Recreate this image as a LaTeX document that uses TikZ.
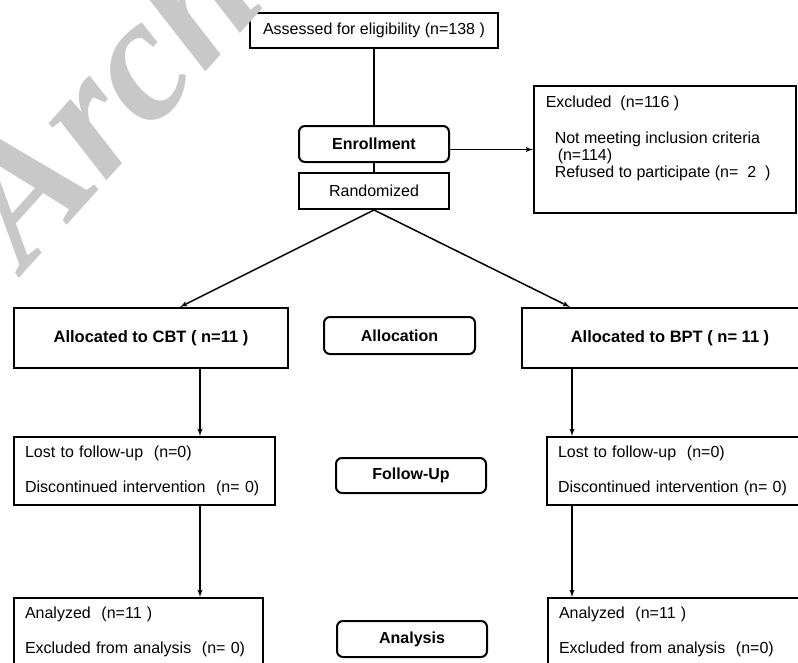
\documentclass[tikz,border=0pt]{standalone}
\usepackage{fontspec}
\setmainfont{Liberation Sans}
\newfontfamily\wmfont{Liberation Serif}
\usetikzlibrary{arrows}

\definecolor{wmgray}{RGB}{200,200,200}

\begin{document}
\begin{tikzpicture}[>=latex',x=1pt,y=-1pt,line width=1.5pt,
	box node/.style={draw, line width=2pt, inner sep=0pt, font=\fontsize{16}{19}\selectfont},
	phase node/.style={box node, rounded corners=6pt, font=\fontsize{16}{19}\selectfont\bfseries},
	list node/.style={box node, align=left, inner xsep=11pt}]

	\useasboundingbox (0,0) rectangle (798,662);
	\clip (0,0) rectangle (798,662);

	% enrollment
	\node[box node, minimum width=248pt, minimum height=35pt] (1) at (374,30.5) {Assessed for eligibility (n=138 )};
	\node[phase node, minimum width=150pt, minimum height=36pt] (2) at (374,144) {Enrollment};
	\node[box node, minimum width=150pt, minimum height=36pt] (3) at (374,191) {Randomized};
	\node[box node, minimum width=262pt, minimum height=127pt] (4) at (665,149.5) {};
	\node[anchor=base west, inner sep=0pt, font=\fontsize{16}{19}\selectfont] (4a) at ([shift={(12,22)}]4.north west) {Excluded\ \ (n=116 )};
	\node[anchor=base west, inner sep=0pt, font=\fontsize{16}{19}\selectfont] (4b) at ([shift={(21,58)}]4.north west) {Not meeting inclusion criteria};
	\node[anchor=base west, inner sep=0pt, font=\fontsize{16}{19}\selectfont] (4c) at ([shift={(24,75)}]4.north west) {(n=114)};
	\node[anchor=base west, inner sep=0pt, font=\fontsize{16}{19}\selectfont] (4d) at ([shift={(21,92)}]4.north west) {Refused to participate (n=\ \ 2\ \ )};

	% allocation
	\node[box node, minimum width=274pt, minimum height=60pt, font=\fontsize{16.5}{19}\selectfont\bfseries] (5) at (151,338) {Allocated to CBT ( n=11 )};
	\node[phase node, minimum width=151pt, minimum height=37pt] (6) at (399.5,335.5) {Allocation};
	\node[box node, minimum width=296pt, minimum height=60pt, font=\fontsize{16.5}{19}\selectfont\bfseries] (7) at (670,338) {Allocated to BPT ( n= 11 )};

	% follow-up
	\node[list node, text width=239pt, minimum height=68pt] (8) at (144.5,471) {Lost to follow-up\ \ (n=0)\\[16pt]Discontinued intervention\ \ (n= 0)};
	\node[phase node, minimum width=150pt, minimum height=35pt] (9) at (411,475.5) {Follow-Up};
	\node[list node, text width=239pt, minimum height=68pt] (10) at (677.5,471) {Lost to follow-up\ \ (n=0)\\[16pt]Discontinued intervention (n= 0)};

	% analysis
	\node[list node, text width=227pt, minimum height=68pt] (11) at (138.5,632) {Analyzed\ \ (n=11 )\\[16pt]Excluded from analysis\ \ (n= 0)};
	\node[phase node, minimum width=150pt, minimum height=36pt] (12) at (412,639) {Analysis};
	\node[list node, text width=238pt, minimum height=68pt] (13) at (678,632) {Analyzed\ \ (n=11 )\\[16pt]Excluded from analysis\ \ (n=0)};

	\coordinate (l1) at (180,0);
	\coordinate (r1) at (570,0);
	\coordinate (l2) at (200,0);
	\coordinate (r2) at (572,0);

	\draw (1) -- (2);
	\draw (2) -- (3);
	\draw[->] (2.east |- 4.west) -- (4.west);
	\draw[->] (3.south) -- (5.north -| l1);
	\draw[->] (3.south) -- (7.north -| r1);
	\draw[->] (5.south -| l2) -- (8.north -| l2);
	\draw[->] (7.south -| r2) -- (10.north -| r2);
	\draw[->] (8.south -| l2) -- (11.north -| l2);
	\draw[->] (10.south -| r2) -- (13.north -| r2);

	% watermark
	\node[wmgray, rotate=48, anchor=base west, inner sep=0pt, font=\wmfont\bfseries\itshape\fontsize{177}{177}\selectfont] (wm) at (25,272) {Archive};
\end{tikzpicture}
\end{document}
